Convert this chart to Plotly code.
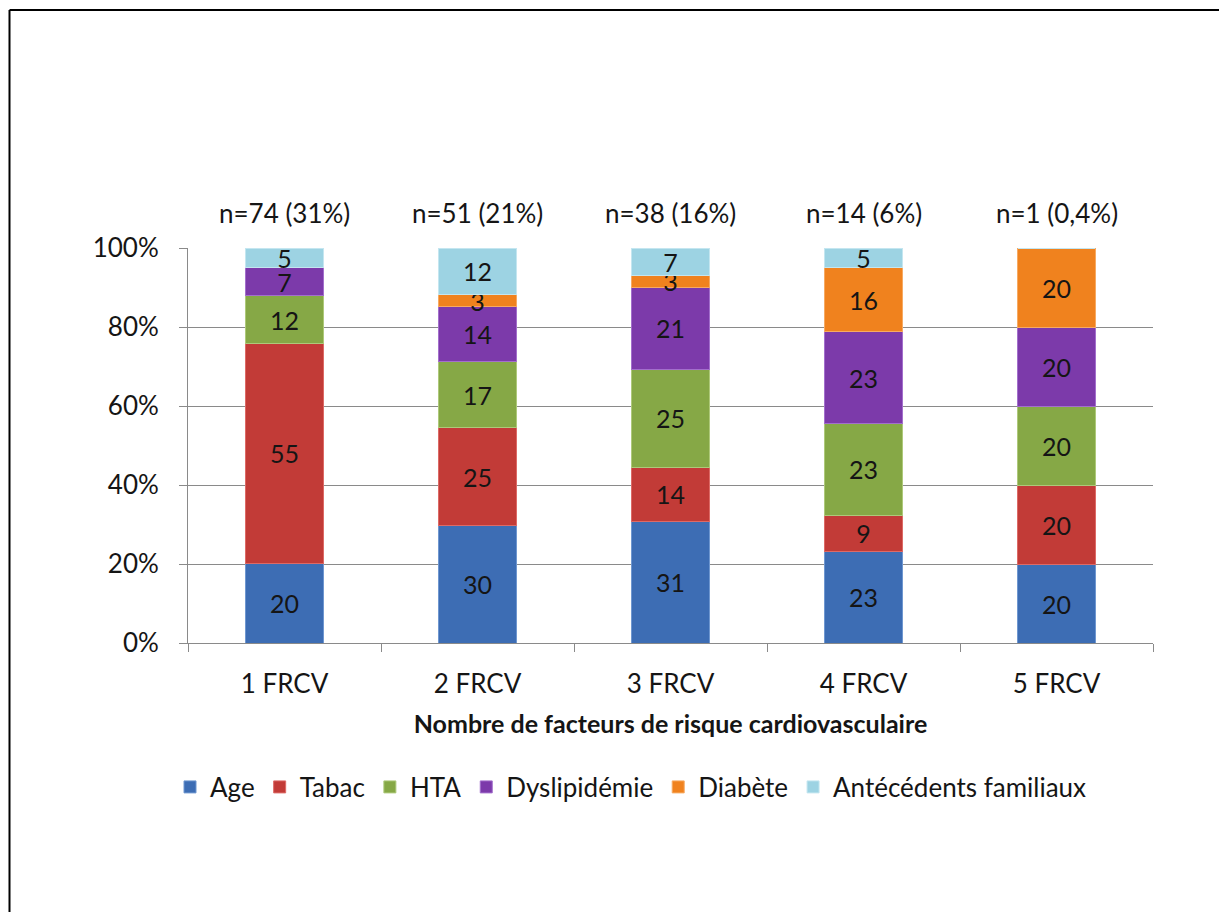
import plotly.graph_objects as go

# Groups by number of cardiovascular risk factors
categories = ["1 FRCV", "2 FRCV", "3 FRCV", "4 FRCV", "5 FRCV"]
group_labels = ["n=74 (31%)", "n=51 (21%)", "n=38 (16%)", "n=14 (6%)", "n=1 (0,4%)"]
y_ticks = [0, 20, 40, 60, 80, 100]
y_tick_labels = ["0%", "20%", "40%", "60%", "80%", "100%"]

# Share of each risk factor within each group
age = [20, 30, 31, 23, 20]
tabac = [55, 25, 14, 9, 20]
hta = [12, 17, 25, 23, 20]
dyslipidemie = [7, 14, 21, 23, 20]
diabete = [0, 3, 3, 16, 20]
antecedents = [5, 12, 7, 5, 0]

series = [
    ("Age", age, "#3d6db4", "#6f97d0"),
    ("Tabac", tabac, "#c23b37", "#dd6a66"),
    ("HTA", hta, "#86a846", "#aec97a"),
    ("Dyslipidémie", dyslipidemie, "#7c3aaa", "#a36fcc"),
    ("Diabète", diabete, "#f0821e", "#f7aa62"),
    ("Antécédents familiaux", antecedents, "#9dd3e3", "#c4e6f0"),
]

FONT = "Lato, 'Open Sans', sans-serif"
TXT = "#151515"
FS = 26

fig = go.Figure()
for name, vals, color, edge in series:
    fig.add_trace(go.Bar(
        name=name,
        x=categories,
        y=vals,
        marker=dict(color=color, line=dict(color=edge, width=1)),
        text=[str(v) if v else "" for v in vals],
        textposition="inside",
        insidetextanchor="middle",
        textangle=0,
        constraintext="none",
        textfont=dict(family=FONT, size=25, color=TXT),
    ))

# Group sizes above each bar
for cat, lab in zip(categories, group_labels):
    fig.add_annotation(
        x=cat, y=100, xref="x", yref="y",
        text=lab, showarrow=False,
        yanchor="bottom", yshift=17,
        font=dict(family=FONT, size=FS, color=TXT),
    )

# Frame lines along the top and left edges of the page
L, R, T, B = 188, 66, 248, 269
W, H = 1219 - L - R, 912 - T - B
def px_x(p):
    return (p - L) / W
def px_y(p):
    return (912 - B - p) / H

fig.add_shape(type="line", xref="paper", yref="paper",
              x0=px_x(9.5), x1=px_x(1225), y0=px_y(10), y1=px_y(10),
              line=dict(color="black", width=2))
fig.add_shape(type="line", xref="paper", yref="paper",
              x0=px_x(9.5), x1=px_x(9.5), y0=px_y(10), y1=px_y(920),
              line=dict(color="black", width=2))

fig.update_layout(
    barmode="stack",
    barnorm="percent",
    bargap=0.6,
    width=1219, height=912,
    margin=dict(l=L, r=R, t=T, b=B),
    paper_bgcolor="white",
    plot_bgcolor="white",
    font=dict(family=FONT, size=FS, color=TXT),
    uniformtext=dict(minsize=25, mode="show"),
    showlegend=True,
    legend=dict(
        orientation="h",
        x=px_x(631), xanchor="center",
        y=px_y(787), yanchor="middle",
        font=dict(family=FONT, size=FS, color=TXT),
        traceorder="normal",
        itemwidth=30,
    ),
    xaxis=dict(
        showline=True, linecolor="#8a8a8a", linewidth=1,
        ticks="outside", tickson="boundaries", ticklen=8, tickcolor="#8a8a8a",
        ticklabelstandoff=18,
        tickfont=dict(family=FONT, size=FS, color=TXT),
        title=dict(text="<b>Nombre de facteurs de risque cardiovasculaire</b>",
                   font=dict(family=FONT, size=25, color=TXT), standoff=17),
    ),
    yaxis=dict(
        range=[0, 100],
        tickmode="array",
        tickvals=y_ticks,
        ticktext=y_tick_labels,
        showline=True, linecolor="#8a8a8a", linewidth=1,
        showgrid=True, gridcolor="#8a8a8a", gridwidth=1,
        ticks="outside", ticklen=8, tickcolor="#8a8a8a",
        ticklabelstandoff=15,
        tickfont=dict(family=FONT, size=FS, color=TXT),
        zeroline=False,
    ),
)

fig.write_html("out.html")
